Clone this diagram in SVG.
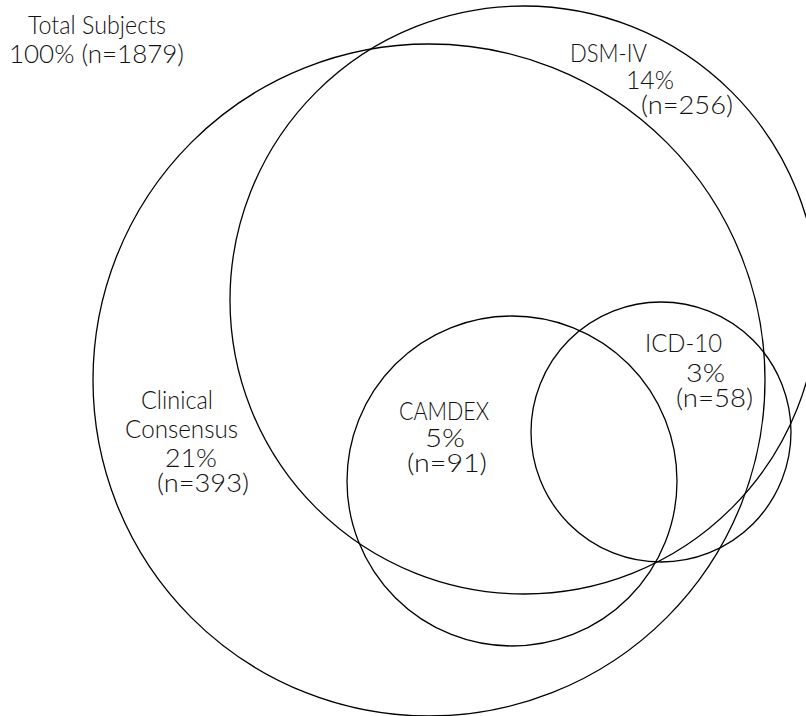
<svg xmlns="http://www.w3.org/2000/svg" width="806" height="716" viewBox="0 0 806 716">
<style>
.c{fill:none;stroke:#000;stroke-width:1.3}
text{font-family:Lato,"Liberation Sans",Arial,sans-serif;font-weight:300;font-size:25px;fill:#111}
</style>
<rect width="806" height="716" fill="#fff"/>
<g id="total">
<text x="28" y="34" textLength="138" lengthAdjust="spacingAndGlyphs">Total Subjects</text>
<text x="9" y="63" textLength="175" lengthAdjust="spacingAndGlyphs">100% (n=1879)</text>
</g>
<g id="clinical">
<circle class="c" cx="429" cy="380" r="336"/>
<text x="141" y="409" textLength="72" lengthAdjust="spacingAndGlyphs">Clinical</text>
<text x="125" y="438" textLength="113" lengthAdjust="spacingAndGlyphs">Consensus</text>
<text x="165" y="467" textLength="52" lengthAdjust="spacingAndGlyphs">21%</text>
<text x="157" y="492" textLength="92" lengthAdjust="spacingAndGlyphs">(n=393)</text>
</g>
<g id="dsm">
<circle class="c" cx="524" cy="300" r="294"/>
<text x="570" y="62" textLength="77" lengthAdjust="spacingAndGlyphs">DSM-IV</text>
<text x="626" y="89" textLength="48" lengthAdjust="spacingAndGlyphs">14%</text>
<text x="641" y="114" textLength="92" lengthAdjust="spacingAndGlyphs">(n=256)</text>
</g>
<g id="camdex">
<circle class="c" cx="512" cy="481" r="165"/>
<text x="399" y="420" textLength="90" lengthAdjust="spacingAndGlyphs">CAMDEX</text>
<text x="425" y="447" textLength="40" lengthAdjust="spacingAndGlyphs">5%</text>
<text x="407" y="472" textLength="80" lengthAdjust="spacingAndGlyphs">(n=91)</text>
</g>
<g id="icd10">
<circle class="c" cx="661" cy="432" r="130"/>
<text x="645" y="352" textLength="77" lengthAdjust="spacingAndGlyphs">ICD-10</text>
<text x="686" y="382" textLength="39" lengthAdjust="spacingAndGlyphs">3%</text>
<text x="676" y="407" textLength="77" lengthAdjust="spacingAndGlyphs">(n=58)</text>
</g>
<g id="connectors"></g>
</svg>
